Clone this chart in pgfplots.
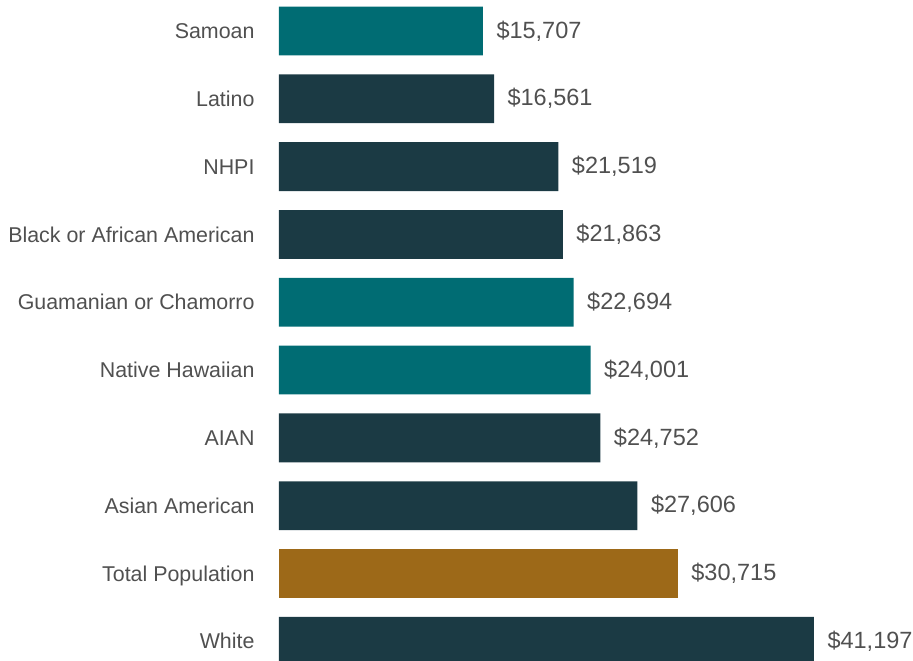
\documentclass[border=0pt]{standalone}
\usepackage{pgfplots}
\pgfplotsset{compat=1.18}
\usepackage{fontspec}
\setmainfont{Liberation Sans}
\definecolor{darkbar}{RGB}{27,58,68}
\definecolor{tealbar}{RGB}{0,108,115}
\definecolor{goldbar}{RGB}{157,105,24}
\definecolor{labgray}{RGB}{80,80,80}
\begin{document}
\begin{tikzpicture}
\begin{axis}[
  name=ax,
  at={(0,0)}, anchor=south west,
  scale only axis,
  width=634pt, height=661pt,
  xbar, bar width=0.72, bar shift=0pt,
  xmin=0, xmax=48822,
  ymin=-0.457, ymax=9.29,
  y dir=reverse,
  hide x axis,
  axis line style={draw=none},
  ytick={0,...,9},
  yticklabels={Samoan,Latino,NHPI,Black or African American,Guamanian or Chamorro,Native Hawaiian,AIAN,Asian American,Total Population,White},
  major tick length=0pt,
  yticklabel style={anchor=east, xshift=-21pt, text=labgray, font=\fontsize{21.4}{25}\selectfont, text height=15.3pt, text depth=0pt},
  /pgf/number format/assume math mode=true,
  point meta=x,
  nodes near coords={\$\pgfmathprintnumber[1000 sep={,}, fixed, precision=0]{\pgfplotspointmeta}},
  nodes near coords style={anchor=west, xshift=10pt, text=labgray, font=\fontsize{23.5}{27}\selectfont},
  clip=false,
]
\addplot[fill=tealbar, draw=none] coordinates {(15707,0) (22694,4) (24001,5)};
\addplot[fill=darkbar, draw=none] coordinates {(16561,1) (21519,2) (21863,3) (24752,6) (27606,7) (41197,9)};
\addplot[fill=goldbar, draw=none] coordinates {(30715,8)};
\end{axis}
\pgfresetboundingbox
\path ([xshift=-279pt]ax.south west) rectangle (ax.north east);
\end{tikzpicture}
\end{document}
